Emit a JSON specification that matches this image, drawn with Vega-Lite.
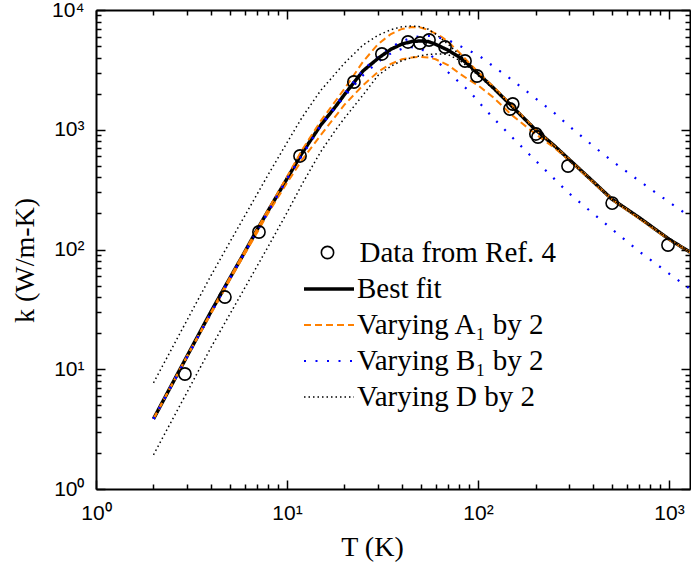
{
  "$schema": "https://vega.github.io/schema/vega-lite/v6.json",
  "width": 594,
  "height": 479,
  "autosize": "none",
  "padding": {"left": 96, "top": 10, "right": 1, "bottom": 90},
  "background": "white",
  "config": {
    "view": {"stroke": null},
    "axis": {
      "grid": false,
      "domainColor": "black",
      "domainWidth": 2,
      "tickColor": "black",
      "tickWidth": 1.5,
      "labelFont": "Liberation Sans",
      "labelFontSize": 21,
      "labelColor": "black",
      "labelOverlap": false,
      "labelFlush": false,
      "labelBound": false,
      "titleFont": "Liberation Serif",
      "titleFontSize": 28,
      "titleFontWeight": "normal",
      "titleColor": "black"
    },
    "legend": {
      "labelFont": "Liberation Serif",
      "labelFontSize": 29,
      "labelColor": "black",
      "labelLimit": 0,
      "padding": 0,
      "title": null
    }
  },
  "datasets": {
    "curves": [
      {"T": 2, "k": 3.85, "series": "Best fit", "curve": "best"},
      {"T": 2.5, "k": 7.5, "series": "Best fit", "curve": "best"},
      {"T": 3, "k": 12.9, "series": "Best fit", "curve": "best"},
      {"T": 4, "k": 30.3, "series": "Best fit", "curve": "best"},
      {"T": 5, "k": 57, "series": "Best fit", "curve": "best"},
      {"T": 6, "k": 95, "series": "Best fit", "curve": "best"},
      {"T": 7, "k": 148, "series": "Best fit", "curve": "best"},
      {"T": 8, "k": 213, "series": "Best fit", "curve": "best"},
      {"T": 10, "k": 390, "series": "Best fit", "curve": "best"},
      {"T": 12, "k": 640, "series": "Best fit", "curve": "best"},
      {"T": 15, "k": 1090, "series": "Best fit", "curve": "best"},
      {"T": 18, "k": 1570, "series": "Best fit", "curve": "best"},
      {"T": 20, "k": 1970, "series": "Best fit", "curve": "best"},
      {"T": 25, "k": 3100, "series": "Best fit", "curve": "best"},
      {"T": 30, "k": 3950, "series": "Best fit", "curve": "best"},
      {"T": 35, "k": 4700, "series": "Best fit", "curve": "best"},
      {"T": 40, "k": 5200, "series": "Best fit", "curve": "best"},
      {"T": 45, "k": 5450, "series": "Best fit", "curve": "best"},
      {"T": 50, "k": 5520, "series": "Best fit", "curve": "best"},
      {"T": 55, "k": 5450, "series": "Best fit", "curve": "best"},
      {"T": 60, "k": 5170, "series": "Best fit", "curve": "best"},
      {"T": 70, "k": 4600, "series": "Best fit", "curve": "best"},
      {"T": 80, "k": 4030, "series": "Best fit", "curve": "best"},
      {"T": 90, "k": 3450, "series": "Best fit", "curve": "best"},
      {"T": 100, "k": 2950, "series": "Best fit", "curve": "best"},
      {"T": 120, "k": 2250, "series": "Best fit", "curve": "best"},
      {"T": 150, "k": 1580, "series": "Best fit", "curve": "best"},
      {"T": 200, "k": 1000, "series": "Best fit", "curve": "best"},
      {"T": 250, "k": 740, "series": "Best fit", "curve": "best"},
      {"T": 300, "k": 565, "series": "Best fit", "curve": "best"},
      {"T": 400, "k": 370, "series": "Best fit", "curve": "best"},
      {"T": 500, "k": 265, "series": "Best fit", "curve": "best"},
      {"T": 700, "k": 184, "series": "Best fit", "curve": "best"},
      {"T": 1000, "k": 122, "series": "Best fit", "curve": "best"},
      {"T": 1288, "k": 95, "series": "Best fit", "curve": "best"},

      {"T": 2, "k": 3.85, "series": "Varying A₁ by 2", "curve": "A_hi"},
      {"T": 3, "k": 12.9, "series": "Varying A₁ by 2", "curve": "A_hi"},
      {"T": 5, "k": 57.5, "series": "Varying A₁ by 2", "curve": "A_hi"},
      {"T": 8, "k": 218, "series": "Varying A₁ by 2", "curve": "A_hi"},
      {"T": 10, "k": 405, "series": "Varying A₁ by 2", "curve": "A_hi"},
      {"T": 12, "k": 680, "series": "Varying A₁ by 2", "curve": "A_hi"},
      {"T": 15, "k": 1180, "series": "Varying A₁ by 2", "curve": "A_hi"},
      {"T": 20, "k": 2200, "series": "Varying A₁ by 2", "curve": "A_hi"},
      {"T": 25, "k": 3700, "series": "Varying A₁ by 2", "curve": "A_hi"},
      {"T": 30, "k": 5200, "series": "Varying A₁ by 2", "curve": "A_hi"},
      {"T": 35, "k": 6300, "series": "Varying A₁ by 2", "curve": "A_hi"},
      {"T": 40, "k": 6950, "series": "Varying A₁ by 2", "curve": "A_hi"},
      {"T": 45, "k": 7200, "series": "Varying A₁ by 2", "curve": "A_hi"},
      {"T": 50, "k": 7150, "series": "Varying A₁ by 2", "curve": "A_hi"},
      {"T": 55, "k": 6800, "series": "Varying A₁ by 2", "curve": "A_hi"},
      {"T": 60, "k": 6350, "series": "Varying A₁ by 2", "curve": "A_hi"},
      {"T": 65, "k": 5900, "series": "Varying A₁ by 2", "curve": "A_hi"},
      {"T": 70, "k": 5400, "series": "Varying A₁ by 2", "curve": "A_hi"},
      {"T": 80, "k": 4400, "series": "Varying A₁ by 2", "curve": "A_hi"},
      {"T": 90, "k": 3600, "series": "Varying A₁ by 2", "curve": "A_hi"},
      {"T": 100, "k": 3050, "series": "Varying A₁ by 2", "curve": "A_hi"},
      {"T": 120, "k": 2300, "series": "Varying A₁ by 2", "curve": "A_hi"},
      {"T": 150, "k": 1600, "series": "Varying A₁ by 2", "curve": "A_hi"},
      {"T": 200, "k": 1010, "series": "Varying A₁ by 2", "curve": "A_hi"},
      {"T": 300, "k": 567, "series": "Varying A₁ by 2", "curve": "A_hi"},
      {"T": 500, "k": 265, "series": "Varying A₁ by 2", "curve": "A_hi"},
      {"T": 1000, "k": 122, "series": "Varying A₁ by 2", "curve": "A_hi"},
      {"T": 1288, "k": 95, "series": "Varying A₁ by 2", "curve": "A_hi"},

      {"T": 2, "k": 3.85, "series": "Varying A₁ by 2", "curve": "A_lo"},
      {"T": 3, "k": 12.8, "series": "Varying A₁ by 2", "curve": "A_lo"},
      {"T": 5, "k": 55, "series": "Varying A₁ by 2", "curve": "A_lo"},
      {"T": 8, "k": 203, "series": "Varying A₁ by 2", "curve": "A_lo"},
      {"T": 10, "k": 360, "series": "Varying A₁ by 2", "curve": "A_lo"},
      {"T": 12, "k": 560, "series": "Varying A₁ by 2", "curve": "A_lo"},
      {"T": 15, "k": 900, "series": "Varying A₁ by 2", "curve": "A_lo"},
      {"T": 20, "k": 1620, "series": "Varying A₁ by 2", "curve": "A_lo"},
      {"T": 25, "k": 2350, "series": "Varying A₁ by 2", "curve": "A_lo"},
      {"T": 30, "k": 3050, "series": "Varying A₁ by 2", "curve": "A_lo"},
      {"T": 35, "k": 3550, "series": "Varying A₁ by 2", "curve": "A_lo"},
      {"T": 40, "k": 3880, "series": "Varying A₁ by 2", "curve": "A_lo"},
      {"T": 45, "k": 4020, "series": "Varying A₁ by 2", "curve": "A_lo"},
      {"T": 50, "k": 4060, "series": "Varying A₁ by 2", "curve": "A_lo"},
      {"T": 55, "k": 4020, "series": "Varying A₁ by 2", "curve": "A_lo"},
      {"T": 60, "k": 3880, "series": "Varying A₁ by 2", "curve": "A_lo"},
      {"T": 70, "k": 3450, "series": "Varying A₁ by 2", "curve": "A_lo"},
      {"T": 80, "k": 2950, "series": "Varying A₁ by 2", "curve": "A_lo"},
      {"T": 90, "k": 2600, "series": "Varying A₁ by 2", "curve": "A_lo"},
      {"T": 100, "k": 2350, "series": "Varying A₁ by 2", "curve": "A_lo"},
      {"T": 120, "k": 1870, "series": "Varying A₁ by 2", "curve": "A_lo"},
      {"T": 150, "k": 1330, "series": "Varying A₁ by 2", "curve": "A_lo"},
      {"T": 200, "k": 920, "series": "Varying A₁ by 2", "curve": "A_lo"},
      {"T": 250, "k": 710, "series": "Varying A₁ by 2", "curve": "A_lo"},
      {"T": 300, "k": 555, "series": "Varying A₁ by 2", "curve": "A_lo"},
      {"T": 500, "k": 263, "series": "Varying A₁ by 2", "curve": "A_lo"},
      {"T": 1000, "k": 121, "series": "Varying A₁ by 2", "curve": "A_lo"},
      {"T": 1288, "k": 95, "series": "Varying A₁ by 2", "curve": "A_lo"},

      {"T": 2, "k": 3.85, "series": "Varying B₁ by 2", "curve": "B_hi"},
      {"T": 5, "k": 57, "series": "Varying B₁ by 2", "curve": "B_hi"},
      {"T": 10, "k": 392, "series": "Varying B₁ by 2", "curve": "B_hi"},
      {"T": 15, "k": 1100, "series": "Varying B₁ by 2", "curve": "B_hi"},
      {"T": 20, "k": 2000, "series": "Varying B₁ by 2", "curve": "B_hi"},
      {"T": 25, "k": 3150, "series": "Varying B₁ by 2", "curve": "B_hi"},
      {"T": 30, "k": 4100, "series": "Varying B₁ by 2", "curve": "B_hi"},
      {"T": 35, "k": 4900, "series": "Varying B₁ by 2", "curve": "B_hi"},
      {"T": 40, "k": 5500, "series": "Varying B₁ by 2", "curve": "B_hi"},
      {"T": 45, "k": 5850, "series": "Varying B₁ by 2", "curve": "B_hi"},
      {"T": 50, "k": 6050, "series": "Varying B₁ by 2", "curve": "B_hi"},
      {"T": 55, "k": 6080, "series": "Varying B₁ by 2", "curve": "B_hi"},
      {"T": 60, "k": 6000, "series": "Varying B₁ by 2", "curve": "B_hi"},
      {"T": 70, "k": 5600, "series": "Varying B₁ by 2", "curve": "B_hi"},
      {"T": 80, "k": 5030, "series": "Varying B₁ by 2", "curve": "B_hi"},
      {"T": 90, "k": 4575, "series": "Varying B₁ by 2", "curve": "B_hi"},
      {"T": 100, "k": 4210, "series": "Varying B₁ by 2", "curve": "B_hi"},
      {"T": 120, "k": 3400, "series": "Varying B₁ by 2", "curve": "B_hi"},
      {"T": 150, "k": 2620, "series": "Varying B₁ by 2", "curve": "B_hi"},
      {"T": 200, "k": 1830, "series": "Varying B₁ by 2", "curve": "B_hi"},
      {"T": 250, "k": 1390, "series": "Varying B₁ by 2", "curve": "B_hi"},
      {"T": 300, "k": 1073, "series": "Varying B₁ by 2", "curve": "B_hi"},
      {"T": 400, "k": 734, "series": "Varying B₁ by 2", "curve": "B_hi"},
      {"T": 500, "k": 552, "series": "Varying B₁ by 2", "curve": "B_hi"},
      {"T": 700, "k": 373, "series": "Varying B₁ by 2", "curve": "B_hi"},
      {"T": 1000, "k": 249, "series": "Varying B₁ by 2", "curve": "B_hi"},
      {"T": 1288, "k": 188, "series": "Varying B₁ by 2", "curve": "B_hi"},

      {"T": 2, "k": 3.85, "series": "Varying B₁ by 2", "curve": "B_lo"},
      {"T": 5, "k": 56.5, "series": "Varying B₁ by 2", "curve": "B_lo"},
      {"T": 10, "k": 385, "series": "Varying B₁ by 2", "curve": "B_lo"},
      {"T": 15, "k": 1070, "series": "Varying B₁ by 2", "curve": "B_lo"},
      {"T": 20, "k": 1900, "series": "Varying B₁ by 2", "curve": "B_lo"},
      {"T": 25, "k": 2850, "series": "Varying B₁ by 2", "curve": "B_lo"},
      {"T": 30, "k": 3700, "series": "Varying B₁ by 2", "curve": "B_lo"},
      {"T": 35, "k": 4350, "series": "Varying B₁ by 2", "curve": "B_lo"},
      {"T": 40, "k": 4750, "series": "Varying B₁ by 2", "curve": "B_lo"},
      {"T": 45, "k": 4900, "series": "Varying B₁ by 2", "curve": "B_lo"},
      {"T": 50, "k": 4750, "series": "Varying B₁ by 2", "curve": "B_lo"},
      {"T": 55, "k": 4350, "series": "Varying B₁ by 2", "curve": "B_lo"},
      {"T": 60, "k": 3850, "series": "Varying B₁ by 2", "curve": "B_lo"},
      {"T": 70, "k": 3010, "series": "Varying B₁ by 2", "curve": "B_lo"},
      {"T": 80, "k": 2480, "series": "Varying B₁ by 2", "curve": "B_lo"},
      {"T": 90, "k": 2100, "series": "Varying B₁ by 2", "curve": "B_lo"},
      {"T": 100, "k": 1733, "series": "Varying B₁ by 2", "curve": "B_lo"},
      {"T": 120, "k": 1255, "series": "Varying B₁ by 2", "curve": "B_lo"},
      {"T": 150, "k": 874, "series": "Varying B₁ by 2", "curve": "B_lo"},
      {"T": 200, "k": 553, "series": "Varying B₁ by 2", "curve": "B_lo"},
      {"T": 250, "k": 391, "series": "Varying B₁ by 2", "curve": "B_lo"},
      {"T": 300, "k": 294, "series": "Varying B₁ by 2", "curve": "B_lo"},
      {"T": 400, "k": 200, "series": "Varying B₁ by 2", "curve": "B_lo"},
      {"T": 500, "k": 149, "series": "Varying B₁ by 2", "curve": "B_lo"},
      {"T": 700, "k": 96, "series": "Varying B₁ by 2", "curve": "B_lo"},
      {"T": 1000, "k": 63, "series": "Varying B₁ by 2", "curve": "B_lo"},
      {"T": 1288, "k": 47, "series": "Varying B₁ by 2", "curve": "B_lo"},

      {"T": 2, "k": 7.7, "series": "Varying D by 2", "curve": "D_hi"},
      {"T": 3, "k": 25.8, "series": "Varying D by 2", "curve": "D_hi"},
      {"T": 4, "k": 60.6, "series": "Varying D by 2", "curve": "D_hi"},
      {"T": 5, "k": 114, "series": "Varying D by 2", "curve": "D_hi"},
      {"T": 6, "k": 190, "series": "Varying D by 2", "curve": "D_hi"},
      {"T": 8, "k": 426, "series": "Varying D by 2", "curve": "D_hi"},
      {"T": 10, "k": 780, "series": "Varying D by 2", "curve": "D_hi"},
      {"T": 12, "k": 1270, "series": "Varying D by 2", "curve": "D_hi"},
      {"T": 15, "k": 2125, "series": "Varying D by 2", "curve": "D_hi"},
      {"T": 20, "k": 3600, "series": "Varying D by 2", "curve": "D_hi"},
      {"T": 25, "k": 5100, "series": "Varying D by 2", "curve": "D_hi"},
      {"T": 30, "k": 6150, "series": "Varying D by 2", "curve": "D_hi"},
      {"T": 35, "k": 6850, "series": "Varying D by 2", "curve": "D_hi"},
      {"T": 40, "k": 7250, "series": "Varying D by 2", "curve": "D_hi"},
      {"T": 45, "k": 7350, "series": "Varying D by 2", "curve": "D_hi"},
      {"T": 50, "k": 7250, "series": "Varying D by 2", "curve": "D_hi"},
      {"T": 55, "k": 6900, "series": "Varying D by 2", "curve": "D_hi"},
      {"T": 60, "k": 6300, "series": "Varying D by 2", "curve": "D_hi"},
      {"T": 70, "k": 5150, "series": "Varying D by 2", "curve": "D_hi"},
      {"T": 80, "k": 4230, "series": "Varying D by 2", "curve": "D_hi"},
      {"T": 90, "k": 3520, "series": "Varying D by 2", "curve": "D_hi"},
      {"T": 100, "k": 2980, "series": "Varying D by 2", "curve": "D_hi"},
      {"T": 120, "k": 2260, "series": "Varying D by 2", "curve": "D_hi"},
      {"T": 150, "k": 1585, "series": "Varying D by 2", "curve": "D_hi"},
      {"T": 200, "k": 1000, "series": "Varying D by 2", "curve": "D_hi"},
      {"T": 300, "k": 565, "series": "Varying D by 2", "curve": "D_hi"},
      {"T": 500, "k": 265, "series": "Varying D by 2", "curve": "D_hi"},
      {"T": 1000, "k": 122, "series": "Varying D by 2", "curve": "D_hi"},
      {"T": 1288, "k": 95, "series": "Varying D by 2", "curve": "D_hi"},

      {"T": 2, "k": 1.93, "series": "Varying D by 2", "curve": "D_lo"},
      {"T": 3, "k": 6.45, "series": "Varying D by 2", "curve": "D_lo"},
      {"T": 4, "k": 15.2, "series": "Varying D by 2", "curve": "D_lo"},
      {"T": 5, "k": 28.5, "series": "Varying D by 2", "curve": "D_lo"},
      {"T": 6, "k": 47.5, "series": "Varying D by 2", "curve": "D_lo"},
      {"T": 8, "k": 107, "series": "Varying D by 2", "curve": "D_lo"},
      {"T": 10, "k": 203, "series": "Varying D by 2", "curve": "D_lo"},
      {"T": 12, "k": 352, "series": "Varying D by 2", "curve": "D_lo"},
      {"T": 15, "k": 654, "series": "Varying D by 2", "curve": "D_lo"},
      {"T": 18, "k": 1000, "series": "Varying D by 2", "curve": "D_lo"},
      {"T": 20, "k": 1250, "series": "Varying D by 2", "curve": "D_lo"},
      {"T": 25, "k": 1950, "series": "Varying D by 2", "curve": "D_lo"},
      {"T": 30, "k": 2850, "series": "Varying D by 2", "curve": "D_lo"},
      {"T": 35, "k": 3400, "series": "Varying D by 2", "curve": "D_lo"},
      {"T": 40, "k": 3780, "series": "Varying D by 2", "curve": "D_lo"},
      {"T": 45, "k": 4000, "series": "Varying D by 2", "curve": "D_lo"},
      {"T": 50, "k": 4150, "series": "Varying D by 2", "curve": "D_lo"},
      {"T": 55, "k": 4250, "series": "Varying D by 2", "curve": "D_lo"},
      {"T": 60, "k": 4300, "series": "Varying D by 2", "curve": "D_lo"},
      {"T": 65, "k": 4300, "series": "Varying D by 2", "curve": "D_lo"},
      {"T": 70, "k": 4230, "series": "Varying D by 2", "curve": "D_lo"},
      {"T": 80, "k": 3800, "series": "Varying D by 2", "curve": "D_lo"},
      {"T": 90, "k": 3300, "series": "Varying D by 2", "curve": "D_lo"},
      {"T": 100, "k": 2850, "series": "Varying D by 2", "curve": "D_lo"},
      {"T": 120, "k": 2200, "series": "Varying D by 2", "curve": "D_lo"},
      {"T": 150, "k": 1555, "series": "Varying D by 2", "curve": "D_lo"},
      {"T": 200, "k": 990, "series": "Varying D by 2", "curve": "D_lo"},
      {"T": 300, "k": 562, "series": "Varying D by 2", "curve": "D_lo"},
      {"T": 500, "k": 264, "series": "Varying D by 2", "curve": "D_lo"},
      {"T": 1000, "k": 122, "series": "Varying D by 2", "curve": "D_lo"},
      {"T": 1288, "k": 95, "series": "Varying D by 2", "curve": "D_lo"}
    ],
    "points": [
      {"T": 2.92, "k": 9.13, "src": "Data from Ref. 4"},
      {"T": 4.73, "k": 40.1, "src": "Data from Ref. 4"},
      {"T": 7.13, "k": 140, "src": "Data from Ref. 4"},
      {"T": 11.7, "k": 604, "src": "Data from Ref. 4"},
      {"T": 22.4, "k": 2505, "src": "Data from Ref. 4"},
      {"T": 31.4, "k": 4293, "src": "Data from Ref. 4"},
      {"T": 43.0, "k": 5408, "src": "Data from Ref. 4"},
      {"T": 49.7, "k": 5300, "src": "Data from Ref. 4"},
      {"T": 55.4, "k": 5615, "src": "Data from Ref. 4"},
      {"T": 67.2, "k": 4910, "src": "Data from Ref. 4"},
      {"T": 85.5, "k": 3750, "src": "Data from Ref. 4"},
      {"T": 98.8, "k": 2810, "src": "Data from Ref. 4"},
      {"T": 152, "k": 1641, "src": "Data from Ref. 4"},
      {"T": 147, "k": 1490, "src": "Data from Ref. 4"},
      {"T": 201, "k": 922, "src": "Data from Ref. 4"},
      {"T": 206, "k": 870, "src": "Data from Ref. 4"},
      {"T": 296, "k": 498, "src": "Data from Ref. 4"},
      {"T": 504, "k": 244, "src": "Data from Ref. 4"},
      {"T": 988, "k": 109, "src": "Data from Ref. 4"}
    ]
  },
  "layer": [
    {
      "data": {"name": "curves"},
      "mark": {"type": "line", "clip": true, "strokeCap": "butt"},
      "encoding": {
        "x": {
          "field": "T", "type": "quantitative",
          "scale": {"type": "log", "domain": [1, 1288], "nice": false},
          "axis": {
            "orient": "bottom",
            "title": "T (K)",
            "titleX": 276,
            "titleY": 66,
            "titleBaseline": "alphabetic",
            "values": [1,2,3,4,5,6,7,8,9,10,20,30,40,50,60,70,80,90,100,200,300,400,500,600,700,800,900,1000],
            "labelExpr": "abs(log(datum.value)/LN10 - round(log(datum.value)/LN10)) < 0.001 ? '10' + ['⁰','¹','²','³','⁴'][round(log(datum.value)/LN10)] : ''",
            "tickSize": {"condition": {"test": "abs(log(datum.value)/LN10 - round(log(datum.value)/LN10)) < 0.001", "value": -9}, "value": -5},
            "labelPadding": 22
          }
        },
        "y": {
          "field": "k", "type": "quantitative",
          "scale": {"type": "log", "domain": [1, 10000], "nice": false},
          "axis": {
            "orient": "left",
            "title": "k (W/m-K)",
            "titleX": -71,
            "titleY": 250,
            "titleAngle": -90,
            "titleAlign": "center",
            "titleBaseline": "middle",
            "values": [1,2,3,4,5,6,7,8,9,10,20,30,40,50,60,70,80,90,100,200,300,400,500,600,700,800,900,1000,2000,3000,4000,5000,6000,7000,8000,9000,10000],
            "labelExpr": "abs(log(datum.value)/LN10 - round(log(datum.value)/LN10)) < 0.001 ? '10' + ['⁰','¹','²','³','⁴'][round(log(datum.value)/LN10)] : ''",
            "tickSize": {"condition": {"test": "abs(log(datum.value)/LN10 - round(log(datum.value)/LN10)) < 0.001", "value": -9}, "value": -5},
            "labelPadding": 21
          }
        },
        "detail": {"field": "curve", "type": "nominal"},
        "color": {
          "field": "series", "type": "nominal",
          "scale": {"domain": ["Best fit", "Varying A₁ by 2", "Varying B₁ by 2", "Varying D by 2"], "range": ["#000000", "#ff8000", "#0000ff", "#000000"]},
          "legend": {
            "orient": "none",
            "legendX": 206,
            "legendY": 261,
            "symbolType": "stroke",
            "symbolSize": 2500,
            "labelOffset": 1,
            "clipHeight": 36,
            "rowPadding": 0
          }
        },
        "strokeDash": {
          "field": "series", "type": "nominal",
          "scale": {"domain": ["Best fit", "Varying A₁ by 2", "Varying B₁ by 2", "Varying D by 2"], "range": [[1, 0], [7, 4], [2, 9.5], [1.5, 3]]}
        },
        "strokeWidth": {
          "field": "series", "type": "nominal",
          "scale": {"type": "ordinal", "domain": ["Best fit", "Varying A₁ by 2", "Varying B₁ by 2", "Varying D by 2"], "range": [3.5, 2, 2.2, 1.5]}
        }
      }
    },
    {
      "data": {"name": "points"},
      "mark": {"type": "point", "filled": false, "color": "black", "opacity": 1, "strokeWidth": 1.6, "size": 150},
      "encoding": {
        "x": {
          "field": "T", "type": "quantitative",
          "axis": {
            "orient": "top",
            "title": null,
            "labels": false,
            "values": [1,2,3,4,5,6,7,8,9,10,20,30,40,50,60,70,80,90,100,200,300,400,500,600,700,800,900,1000],
            "tickSize": {"condition": {"test": "abs(log(datum.value)/LN10 - round(log(datum.value)/LN10)) < 0.001", "value": -9}, "value": -5}
          }
        },
        "y": {
          "field": "k", "type": "quantitative",
          "axis": {
            "orient": "right",
            "title": null,
            "labels": false,
            "values": [1,2,3,4,5,6,7,8,9,10,20,30,40,50,60,70,80,90,100,200,300,400,500,600,700,800,900,1000,2000,3000,4000,5000,6000,7000,8000,9000,10000],
            "tickSize": {"condition": {"test": "abs(log(datum.value)/LN10 - round(log(datum.value)/LN10)) < 0.001", "value": -9}, "value": -5}
          }
        },
        "shape": {
          "field": "src", "type": "nominal",
          "scale": {"range": ["circle"]},
          "legend": {
            "orient": "none",
            "legendX": 217,
            "legendY": 228,
            "symbolSize": 150,
            "symbolStrokeWidth": 1.6,
            "symbolOpacity": 1,
            "labelOffset": 17.5
          }
        }
      }
    }
  ],
  "resolve": {"axis": {"x": "independent", "y": "independent"}}
}
